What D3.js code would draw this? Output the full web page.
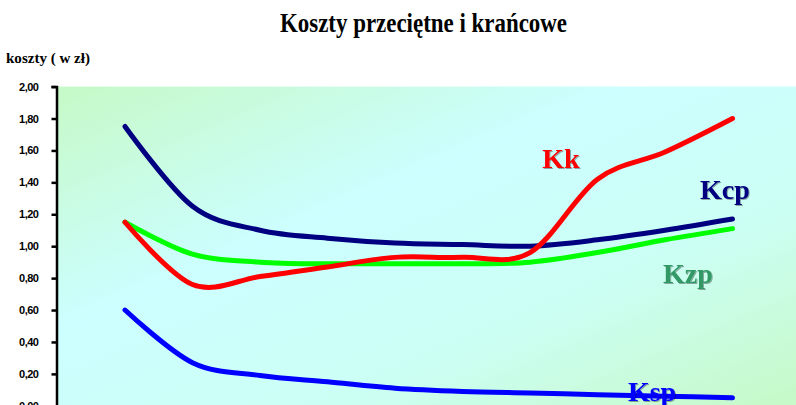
<!DOCTYPE html>
<html>
<head>
<meta charset="utf-8">
<script src="https://cdn.jsdelivr.net/npm/d3@7"></script>
<style>
  body { margin: 0; background: #fff; }
  svg { display: block; }
</style>
</head>
<body>
<svg id="chart" width="796" height="405"></svg>
<script>
// production volume (categories on the x axis, unlabeled)
const output = [1, 2, 3, 4, 5, 6, 7, 8, 9, 10];

// costs in zł
const kcp = [1.75, 1.25, 1.10, 1.05, 1.02, 1.01, 1.00, 1.04, 1.10, 1.17];
const kzp = [1.15, 0.95, 0.90, 0.89, 0.89, 0.89, 0.90, 0.96, 1.04, 1.11];
const kk  = [1.15, 0.76, 0.81, 0.87, 0.93, 0.93, 0.96, 1.42, 1.59, 1.80];
const ksp = [0.60, 0.27, 0.19, 0.15, 0.11, 0.09, 0.08, 0.07, 0.06, 0.05];

const yTicks = [0, 0.2, 0.4, 0.6, 0.8, 1.0, 1.2, 1.4, 1.6, 1.8, 2.0];

const series = [
    { key: "Kcp", values: kcp, line: "#000080", label: "#000080", lx: 9.52, ly: 1.295 },
    { key: "Kzp", values: kzp, line: "#00ff00", label: "#339966", lx: 8.97, ly: 0.77 },
    { key: "Kk",  values: kk,  line: "#ff0000", label: "#ff0000", lx: 7.18, ly: 1.49 },
    { key: "Ksp", values: ksp, line: "#0000ff", label: "#0000ff", lx: 8.45, ly: 0.03 }
];

const svg = d3.select("#chart");
const plot = { left: 57.5, right: 800, top: 86.6, bottom: 405.8 };

const x = d3.scaleLinear().domain([0, 11]).range([plot.left, plot.right]);
const y = d3.scaleLinear().domain([0, 2]).range([plot.bottom, plot.top]);

// background gradient of the plot area
const defs = svg.append("defs");
const grad = defs.append("linearGradient")
    .attr("id", "bg")
    .attr("x1", 0).attr("y1", 0).attr("x2", 1).attr("y2", 1);
grad.append("stop").attr("offset", 0).attr("stop-color", "#c6f9c6");
grad.append("stop").attr("offset", 0.38).attr("stop-color", "#ccffff");
grad.append("stop").attr("offset", 0.68).attr("stop-color", "#ccfff4");
grad.append("stop").attr("offset", 1).attr("stop-color", "#c6f9c6");

const shadow = defs.append("filter").attr("id", "shadow")
    .attr("x", "-10%").attr("y", "-10%").attr("width", "130%").attr("height", "130%");
shadow.append("feDropShadow")
    .attr("dx", 1).attr("dy", 1).attr("stdDeviation", 0.6)
    .attr("flood-color", "#000").attr("flood-opacity", 0.35);

svg.append("rect")
    .attr("x", plot.left)
    .attr("y", plot.top)
    .attr("width", plot.right - plot.left)
    .attr("height", plot.bottom - plot.top)
    .attr("fill", "url(#bg)");

// title
svg.append("text")
    .attr("x", 280)
    .attr("y", 32)
    .attr("textLength", 287)
    .attr("lengthAdjust", "spacingAndGlyphs")
    .style("font-family", "'Liberation Serif', 'Times New Roman', serif")
    .style("font-weight", "bold")
    .style("font-size", "27px")
    .style("fill", "#000")
    .text("Koszty przeciętne i krańcowe");

// y axis title
svg.append("text")
    .attr("x", 6)
    .attr("y", 63)
    .attr("textLength", 84)
    .attr("lengthAdjust", "spacingAndGlyphs")
    .style("font-family", "'Liberation Serif', 'Times New Roman', serif")
    .style("font-weight", "bold")
    .style("font-size", "14px")
    .text("koszty ( w zł)");

// y axis
const yAxis = svg.append("g")
    .attr("transform", `translate(${plot.left - 1},0)`)
    .call(d3.axisLeft(y)
        .tickValues(yTicks)
        .tickSize(5)
        .tickPadding(13)
        .tickFormat(d => d3.format(".2f")(d).replace(".", ",")));
yAxis.select(".domain").attr("stroke", "#000").attr("stroke-width", 2.5);
yAxis.selectAll(".tick line").attr("stroke", "#000").attr("stroke-width", 2.5);
yAxis.selectAll(".tick text")
    .style("font-family", "'Liberation Sans', Arial, sans-serif")
    .style("font-weight", "bold")
    .style("font-size", "11px")
    .style("letter-spacing", "-0.5px")
    .attr("fill", "#000");

// x axis (sits at the very bottom edge)
const xAxis = svg.append("g")
    .attr("transform", `translate(0,${plot.bottom})`)
    .call(d3.axisBottom(x).tickValues(d3.range(0, 12)).tickSize(3).tickFormat(""));
xAxis.select(".domain").attr("stroke", "#000").attr("stroke-width", 2);
xAxis.selectAll(".tick line").attr("stroke", "#888");

// lines
const line = d3.line()
    .x((d, i) => x(output[i]))
    .y(d => y(d))
    .curve(d3.curveCardinal.tension(0));

svg.append("g")
    .selectAll("path")
    .data(series)
    .join("path")
    .attr("d", d => line(d.values))
    .attr("fill", "none")
    .attr("stroke", d => d.line)
    .attr("stroke-width", 5)
    .attr("stroke-linecap", "round")
    .attr("stroke-linejoin", "round");

// series labels
svg.append("g")
    .selectAll("text")
    .data(series)
    .join("text")
    .attr("x", d => x(d.lx))
    .attr("y", d => y(d.ly))
    .attr("filter", "url(#shadow)")
    .style("font-family", "'Liberation Serif', 'Times New Roman', serif")
    .style("font-weight", "bold")
    .style("font-size", "28px")
    .style("fill", d => d.label)
    .text(d => d.key);
</script>
</body>
</html>
